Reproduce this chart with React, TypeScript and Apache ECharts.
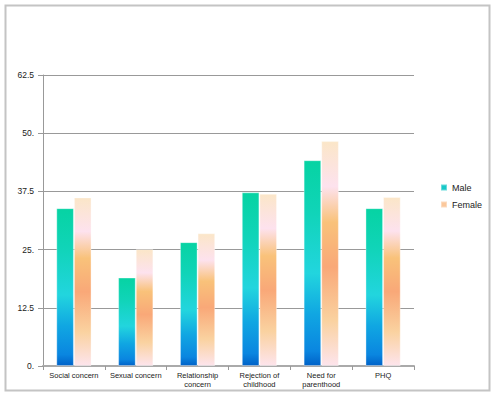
import React, { useEffect, useRef } from "react";
import * as echarts from "echarts";

const categories = [
  "Social concern",
  "Sexual concern",
  "Relationship\nconcern",
  "Rejection of\nchildhood",
  "Need for\nparenthood",
  "PHQ",
];
const maleValues = [33.9, 19.0, 26.6, 37.3, 44.2, 33.9];
const femaleValues = [36.2, 25.1, 28.5, 37.0, 48.3, 36.3];
const yTickLabels: Record<string, string> = {
  "0": "0.",
  "12.5": "12.5",
  "25": "25.",
  "37.5": "37.5",
  "50": "50.",
  "62.5": "62.5",
};

const maleGradient = new echarts.graphic.LinearGradient(0, 0, 0, 1, [
  { offset: 0, color: "#06d3a3" },
  { offset: 0.25, color: "#10d4b8" },
  { offset: 0.55, color: "#22d5de" },
  { offset: 0.75, color: "#10a6e2" },
  { offset: 0.93, color: "#0a86e0" },
  { offset: 1, color: "#0062c8" },
]);
const femaleGradient = new echarts.graphic.LinearGradient(0, 0, 0, 1, [
  { offset: 0, color: "#fbe6c8" },
  { offset: 0.2, color: "#fde2ee" },
  { offset: 0.36, color: "#f9c27a" },
  { offset: 0.56, color: "#f9a878" },
  { offset: 0.8, color: "#fad2a0" },
  { offset: 1, color: "#fde4ec" },
]);

export default function App() {
  const ref = useRef<HTMLDivElement>(null);
  useEffect(() => {
    if (!ref.current) return;
    const chart = echarts.init(ref.current, null, { renderer: "svg" });
    const font = "Liberation Sans";
    chart.setOption({
      animation: false,
      backgroundColor: "#ffffff",
      textStyle: { fontFamily: font },
      graphic: [
        {
          type: "rect",
          shape: { x: 5.5, y: 5.5, width: 484, height: 385 },
          style: { fill: "none", stroke: "#c4c4c4", lineWidth: 2 },
          silent: true,
        },
      ],
      grid: { left: 43, right: 81, top: 75, bottom: 30, containLabel: false },
      legend: {
        orient: "vertical",
        left: 440,
        top: 183,
        padding: 0,
        itemWidth: 6,
        itemHeight: 6,
        itemGap: 8,
        icon: "rect",
        textStyle: { fontSize: 9, color: "#222", fontFamily: font },
        data: [
          { name: "Male", itemStyle: { color: "#18c8c8" } },
          { name: "Female", itemStyle: { color: "#fbc89c" } },
        ],
      },
      xAxis: {
        type: "category",
        data: categories,
        axisLine: { show: true, lineStyle: { color: "#aaaaaa", width: 2 } },
        axisTick: { show: true, length: 4, alignWithLabel: false, lineStyle: { color: "#999" } },
        axisLabel: {
          color: "#222",
          fontSize: 7.5,
          lineHeight: 9,
          margin: 5,
          interval: 0,
          fontFamily: font,
        },
      },
      yAxis: {
        type: "value",
        min: 0,
        max: 62.5,
        interval: 12.5,
        axisLine: { show: true, lineStyle: { color: "#999999" } },
        axisTick: { show: true, length: 5, lineStyle: { color: "#999999" } },
        splitLine: { show: true, lineStyle: { color: "#999999", width: 1 } },
        axisLabel: {
          color: "#222",
          fontSize: 8.5,
          margin: 9,
          fontFamily: font,
          formatter: (v: number) => yTickLabels[String(v)] ?? String(v),
        },
      },
      series: [
        {
          name: "Male",
          type: "bar",
          data: maleValues,
          barGap: "0%",
          barCategoryGap: "43%",
          itemStyle: {
            color: maleGradient,
            borderColor: "rgba(255,255,255,0.35)",
            borderWidth: 1,
          },
        },
        {
          name: "Female",
          type: "bar",
          data: femaleValues,
          itemStyle: {
            color: femaleGradient,
            borderColor: "rgba(255,255,255,0.35)",
            borderWidth: 1,
          },
        },
      ],
    });
    return () => chart.dispose();
  }, []);
  return <div ref={ref} style={{ width: 495, height: 396, position: "absolute", left: 0, top: 0 }} />;
}
